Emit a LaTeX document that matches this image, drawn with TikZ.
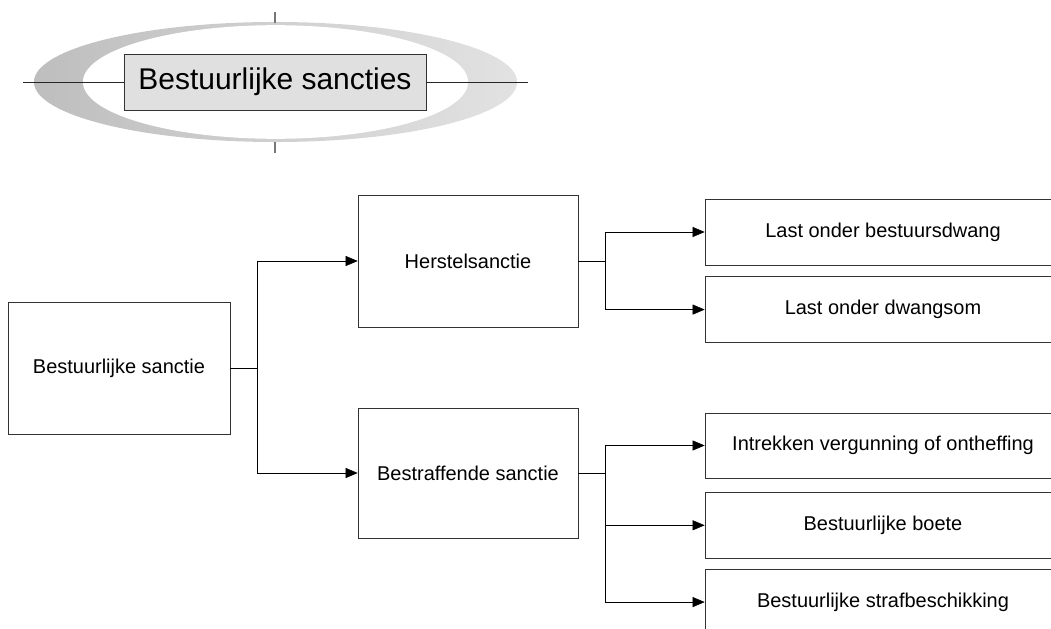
\documentclass[tikz,border=0pt]{standalone}
\usepackage{fontspec}
\setmainfont{Liberation Sans}
\usetikzlibrary{arrows.meta,positioning}
\definecolor{SanDark}{HTML}{BEBEBE}
\definecolor{SanLight}{HTML}{E2E2E2}
\definecolor{SanBox}{HTML}{E0E0E0}
\definecolor{SanTick}{HTML}{777777}

\begin{document}
\begin{tikzpicture}[x=0.025cm, y=-0.025cm, every node/.style={font=\fontsize{14.2}{17}\selectfont}, arr/.style={-{Triangle[length=0.3cm,width=0.25cm]},thin,black}, box/.style={draw=black!80,thin,fill=white,inner sep=0pt}]
    \useasboundingbox (0,0) rectangle (1051,629);
    % title
    \shade[left color=SanDark,right color=SanLight] (275.5,82) ellipse [x radius=6.0375cm, y radius=1.5cm];
    \fill[white] (275.5,82) ellipse [x radius=4.8125cm, y radius=1.42cm];
    \draw[SanTick,line width=0.8pt] (275,12) -- (275,23) (275,142) -- (275,153);
    \node[draw=black!80,fill=SanBox,inner sep=0pt,minimum width=7.55cm,minimum height=1.4cm,font=\fontsize{21.3}{25}\selectfont] (title) at (275,82) {Bestuurlijke sancties};
    \coordinate (tl) at (23,82); \coordinate (tr) at (528,82);
    \draw[black!85] (tl) -- (title.west); \draw[black!85] (title.east) -- (tr);
    % tree
    \node[box,minimum width=5.55cm,minimum height=3.3cm] (bs) at (119,368) {Bestuurlijke sanctie};
    \node[box,minimum width=5.5cm,minimum height=3.3cm] (hs) at (468,261) {Herstelsanctie};
    \node[box,minimum width=5.5cm,minimum height=3.25cm] (bf) at (468,473) {Bestraffende sanctie};
    \node[box,minimum width=8.9cm,minimum height=1.65cm] (r1) at (883,232) {Last onder bestuursdwang};
    \node[box,minimum width=8.9cm,minimum height=1.65cm,below=0.275cm of r1] (r2) {Last onder dwangsom};
    \node[box,minimum width=8.9cm,minimum height=1.63cm] (r3) at (883,445.5) {Intrekken vergunning of ontheffing};
    \node[box,minimum width=8.9cm,minimum height=1.63cm,below=0.35cm of r3] (r4) {Bestuurlijke boete};
    \node[box,minimum width=8.9cm,minimum height=1.63cm,below=0.275cm of r4] (r5) {Bestuurlijke strafbeschikking};
    \draw[arr] (bs.east) -- ++(27,0) |- (hs.west); \draw[arr] (bs.east) -- ++(27,0) |- (bf.west);
    \draw[arr] (hs.east) -- ++(27,0) |- (r1.west); \draw[arr] (hs.east) -- ++(27,0) |- (r2.west);
    \draw[arr] (bf.east) -- ++(27,0) |- (r3.west); \draw[arr] (bf.east) -- ++(27,0) |- (r4.west); \draw[arr] (bf.east) -- ++(27,0) |- (r5.west);
  \end{tikzpicture}
\end{document}
